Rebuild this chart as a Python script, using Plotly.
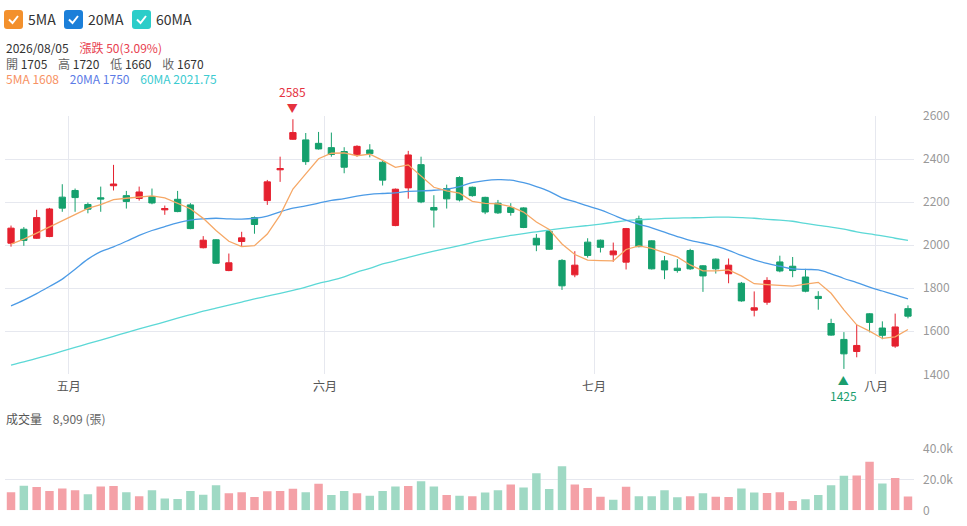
import plotly.graph_objects as go

W, H = 967, 526
ML, MR = 5, 53

# --- data ------------------------------------------------------------------
opens = [2009, 2074, 2032, 2040, 2223, 2254, 2189, 2220, 2276, 2230,
         2217, 2226, 2164, 2213, 2187, 1988, 2025, 1882, 2017, 2128,
         2207, 2350, 2492, 2489, 2473, 2453, 2435, 2421, 2442, 2385,
         2091, 2266, 2374, 2175, 2263, 2314, 2269, 2222, 2195, 2175,
         2173, 2032, 2063, 1929, 1862, 2014, 2023, 1955, 1921, 2122,
         2020, 1927, 1893, 1975, 1904, 1935, 1867, 1823, 1698, 1735,
         1922, 1902, 1852, 1762, 1636, 1562, 1506, 1681, 1615, 1531,
         1705]
highs = [2091, 2084, 2164, 2173, 2283, 2263, 2198, 2272, 2373, 2252,
         2272, 2263, 2184, 2252, 2195, 2042, 2028, 1961, 2062, 2133,
         2303, 2411, 2585, 2521, 2526, 2523, 2455, 2464, 2469, 2393,
         2263, 2438, 2411, 2232, 2281, 2320, 2272, 2225, 2210, 2195,
         2176, 2052, 2071, 1935, 1972, 2032, 2026, 2012, 2080, 2137,
         2023, 1950, 1935, 1983, 1907, 1938, 1938, 1829, 1785, 1851,
         1951, 1945, 1890, 1786, 1658, 1596, 1629, 1684, 1646, 1682,
         1720]
lows = [1993, 1997, 2029, 2037, 2155, 2155, 2148, 2155, 2254, 2170,
        2207, 2190, 2141, 2153, 2074, 1985, 1913, 1879, 1994, 2053,
        2187, 2294, 2489, 2373, 2444, 2411, 2334, 2411, 2408, 2277,
        2088, 2216, 2195, 2082, 2170, 2203, 2225, 2144, 2145, 2137,
        2079, 1972, 1978, 1792, 1851, 1942, 1966, 1923, 1887, 1990,
        1887, 1842, 1872, 1885, 1783, 1868, 1823, 1737, 1669, 1723,
        1874, 1851, 1781, 1700, 1579, 1425, 1479, 1595, 1563, 1523,
        1660]
closes = [2079, 2022, 2128, 2168, 2172, 2221, 2167, 2214, 2284, 2203,
          2247, 2196, 2170, 2156, 2077, 2023, 1916, 1918, 2034, 2096,
          2294, 2356, 2523, 2388, 2447, 2421, 2362, 2459, 2425, 2302,
          2260, 2419, 2201, 2163, 2215, 2210, 2230, 2154, 2150, 2152,
          2082, 2001, 1981, 1811, 1907, 1952, 1990, 1973, 2077, 1993,
          1890, 1885, 1882, 1890, 1857, 1890, 1907, 1741, 1709, 1836,
          1880, 1882, 1786, 1752, 1582, 1495, 1534, 1641, 1581, 1620,
          1670]
volumes = [11800, 15900, 15100, 12500, 14200, 13100, 10500, 15500, 15700, 11800,
           9200, 13100, 7700, 7300, 12500, 10100, 16300, 11000, 11800, 8600,
           12300, 12500, 14000, 11800, 17200, 9900, 12500, 11000, 9500, 12500,
           15500, 15700, 18900, 15500, 9900, 9500, 9200, 11600, 13100, 16800,
           14800, 24100, 13800, 28600, 16800, 14400, 8800, 6900, 15300, 9200,
           9200, 13100, 8400, 9200, 11000, 8800, 8600, 14200, 11600, 11200,
           11800, 6000, 7100, 9900, 16300, 22400, 22600, 31600, 17400, 20900,
           8909]
ma5 = [2005, 2028, 2056, 2084, 2113.8, 2142.2, 2171.2, 2188.4, 2211.6, 2217.8,
       2223.0, 2228.8, 2220.0, 2194.4, 2169.2, 2124.4, 2068.4, 2018.0, 1993.6, 1997.4,
       2051.6, 2139.6, 2260.6, 2331.4, 2401.6, 2427.0, 2428.2, 2415.4, 2422.8, 2393.8,
       2361.6, 2373.0, 2321.4, 2269.0, 2251.6, 2241.6, 2203.8, 2194.4, 2191.8, 2179.2,
       2153.6, 2107.8, 2073.2, 2005.4, 1956.4, 1930.4, 1928.2, 1926.6, 1979.8, 1997.0,
       1984.6, 1963.6, 1945.4, 1908.0, 1880.8, 1880.8, 1885.2, 1857.0, 1820.8, 1816.6,
       1814.6, 1809.6, 1818.6, 1827.2, 1776.4, 1699.4, 1629.8, 1600.8, 1566.6, 1574.2,
       1608]
ma20 = [1718, 1745, 1775, 1808, 1842, 1888, 1935, 1970, 1992, 2018,
        2045, 2068, 2086, 2103, 2116, 2122, 2125, 2122, 2121, 2125,
        2135, 2155, 2172, 2182, 2195, 2208, 2216, 2228, 2236, 2240,
        2243, 2250, 2252, 2255, 2260, 2272, 2290, 2300, 2304, 2302,
        2290, 2272, 2250, 2220, 2202, 2182, 2164, 2140, 2116, 2097,
        2080, 2060, 2040, 2022, 2010, 1995, 1976, 1952, 1932, 1915,
        1902, 1890, 1887, 1885, 1867, 1845, 1826, 1805, 1787, 1769,
        1750]
ma60 = [1443, 1458, 1474, 1490, 1508, 1525, 1542, 1559, 1576, 1594,
        1611, 1627, 1644, 1661, 1677, 1693, 1707, 1721, 1735, 1750,
        1763, 1776, 1790, 1805, 1822, 1836, 1853, 1875, 1892, 1913,
        1927, 1943, 1958, 1972, 1985, 1998, 2012, 2024, 2035, 2045,
        2054, 2062, 2070, 2078, 2085, 2091, 2098, 2106, 2114, 2118,
        2121, 2124, 2126, 2127, 2128, 2130, 2130, 2128, 2125, 2120,
        2116, 2111, 2101, 2092, 2084, 2074, 2062, 2052, 2043, 2032,
        2021.75]

last_date = "2026/08/05"
month_pos = [4.5, 24.5, 45.5, 67.5]
month_labels = ["五月", "六月", "七月", "八月"]
price_ticks = [1400, 1600, 1800, 2000, 2200, 2400, 2600]
vol_ticks = [0, 20000, 40000]
vol_tick_labels = ["0", "20.0k", "40.0k"]

# --- styling ---------------------------------------------------------------
UP, DOWN = "#e5212f", "#15a06d"
UP_VOL, DOWN_VOL = "#f4a1a7", "#9fd9c4"
C5, C20, C60 = "#f6a866", "#4c9be6", "#5cd8d6"
GRID = "#e6e8ef"
FONT = "Noto Sans CJK TC, Noto Sans, sans-serif"
GAP = "&nbsp;&nbsp;&nbsp;&nbsp;"


def X(px):
    return (px - ML) / (W - ML - MR)


def Y(py):
    return 1 - py / H


xs = list(range(len(closes)))
vol_colors = [UP_VOL if (closes[i] >= (closes[i - 1] if i else opens[i])) else DOWN_VOL
              for i in xs]

fig = go.Figure()
fig.add_trace(go.Scatter(x=xs, y=ma60, mode="lines", line=dict(color=C60, width=1.3),
                         line_shape="spline", hoverinfo="skip"))
fig.add_trace(go.Scatter(x=xs, y=ma20, mode="lines", line=dict(color=C20, width=1.3),
                         line_shape="spline", hoverinfo="skip"))
fig.add_trace(go.Scatter(x=xs, y=ma5, mode="lines", line=dict(color=C5, width=1.3),
                         hoverinfo="skip"))
fig.add_trace(go.Candlestick(
    x=xs, open=opens, high=highs, low=lows, close=closes,
    increasing=dict(line=dict(color=UP, width=1), fillcolor=UP),
    decreasing=dict(line=dict(color=DOWN, width=1), fillcolor=DOWN),
    whiskerwidth=0,
))
fig.add_trace(go.Bar(x=xs, y=volumes, marker=dict(color=vol_colors, line_width=0),
                     width=0.66, xaxis="x2", yaxis="y2"))

xr = [-0.47, len(xs) - 1 + 0.47]
fig.update_layout(
    width=W, height=H, showlegend=False,
    margin=dict(l=ML, r=MR, t=0, b=0, autoexpand=False),
    plot_bgcolor="white", paper_bgcolor="white",
    font=dict(family=FONT, size=12, color="#555"),
    xaxis=dict(domain=[0, 1], anchor="y", range=xr, rangeslider=dict(visible=False),
               tickvals=month_pos, ticktext=month_labels, showgrid=True,
               gridcolor=GRID, zeroline=False, ticks="", showline=False,
               tickfont=dict(size=12, color="#555"), ticklabelstandoff=4),
    yaxis=dict(domain=[Y(374.3), Y(116)], range=[1400, 2600], side="right",
               tickvals=price_ticks, gridcolor=GRID, zeroline=False, ticks="",
               tickfont=dict(size=12, color="#999"), ticklabelstandoff=8),
    xaxis2=dict(domain=[0, 1], anchor="y2", range=xr, showticklabels=False,
                showgrid=False, zeroline=False),
    yaxis2=dict(domain=[Y(510.3), Y(448.7)], range=[0, 40000], side="right",
                tickvals=vol_ticks, ticktext=vol_tick_labels, gridcolor=GRID,
                zeroline=False, ticks="", tickfont=dict(size=12, color="#999"),
                ticklabelstandoff=8),
)

shapes = []
annotations = []


def checkbox(x0, color, label):
    y0, y1, r = 10, 29, 3
    x1 = x0 + 19
    path = (f"M {X(x0 + r)} {Y(y0)} L {X(x1 - r)} {Y(y0)} Q {X(x1)} {Y(y0)} {X(x1)} {Y(y0 + r)} "
            f"L {X(x1)} {Y(y1 - r)} Q {X(x1)} {Y(y1)} {X(x1 - r)} {Y(y1)} "
            f"L {X(x0 + r)} {Y(y1)} Q {X(x0)} {Y(y1)} {X(x0)} {Y(y1 - r)} "
            f"L {X(x0)} {Y(y0 + r)} Q {X(x0)} {Y(y0)} {X(x0 + r)} {Y(y0)} Z")
    shapes.append(dict(type="path", xref="paper", yref="paper", path=path,
                       fillcolor=color, line=dict(width=0)))
    tick = f"M {X(x0 + 5)} {Y(19.5)} L {X(x0 + 8.5)} {Y(23)} L {X(x0 + 14)} {Y(16)}"
    shapes.append(dict(type="path", xref="paper", yref="paper", path=tick,
                       line=dict(color="white", width=2)))
    annotations.append(dict(xref="paper", yref="paper", x=X(x1 + 3), y=Y(19.5),
                            xanchor="left", yanchor="middle", showarrow=False,
                            text=label, font=dict(size=14, color="#333")))


checkbox(4, "#f3902c", "5MA")
checkbox(64, "#1b7fd9", "20MA")
checkbox(132, "#2ccdc9", "60MA")

chg = closes[-1] - closes[-2]
pct = chg / closes[-2] * 100
header = (
    f"<span style='color:#333'>{last_date}</span>{GAP}"
    f"<span style='color:#e8414f'>漲跌 {chg}({pct:.2f}%)</span><br>"
    f"開 <span style='color:#333'>{opens[-1]}</span>{GAP}"
    f"高 <span style='color:#333'>{highs[-1]}</span>{GAP}"
    f"低 <span style='color:#333'>{lows[-1]}</span>{GAP}"
    f"收 <span style='color:#333'>{closes[-1]}</span><br>"
    f"<span style='color:#f79263'>5MA {ma5[-1]:g}</span>{GAP}"
    f"<span style='color:#5c7be6'>20MA {ma20[-1]:g}</span>{GAP}"
    f"<span style='color:#3ccbd1'>60MA {ma60[-1]:g}</span>"
)
annotations.append(dict(xref="paper", yref="paper", x=X(4), y=Y(63),
                        xanchor="left", yanchor="middle", align="left", showarrow=False,
                        text=header, font=dict(size=12, color="#666")))
annotations.append(dict(xref="paper", yref="paper", x=X(4), y=Y(418),
                        xanchor="left", yanchor="middle", showarrow=False,
                        text=f"成交量{GAP}<span style='color:#666'>{volumes[-1]:,} (張)</span>",
                        font=dict(size=12, color="#555")))

# extreme markers: value label plus triangle, one annotation each
imax = highs.index(max(highs))
imin = lows.index(min(lows))
annotations += [
    dict(x=imax, y=highs[imax], xref="x", yref="y", showarrow=False,
         text=f"{highs[imax]}<br><span style='font-size:11px'>▼</span>",
         yanchor="bottom", yshift=1, font=dict(size=12, color="#e5323f")),
    dict(x=imin, y=lows[imin], xref="x", yref="y", showarrow=False,
         text=f"<span style='font-size:11px'>▲</span><br>{lows[imin]}",
         yanchor="top", yshift=-1, font=dict(size=12, color="#1a9e6e")),
]

fig.update_layout(shapes=shapes, annotations=annotations)
fig.write_html("out.html", config={"displayModeBar": False},
               post_script="document.body.style.margin='0';")
